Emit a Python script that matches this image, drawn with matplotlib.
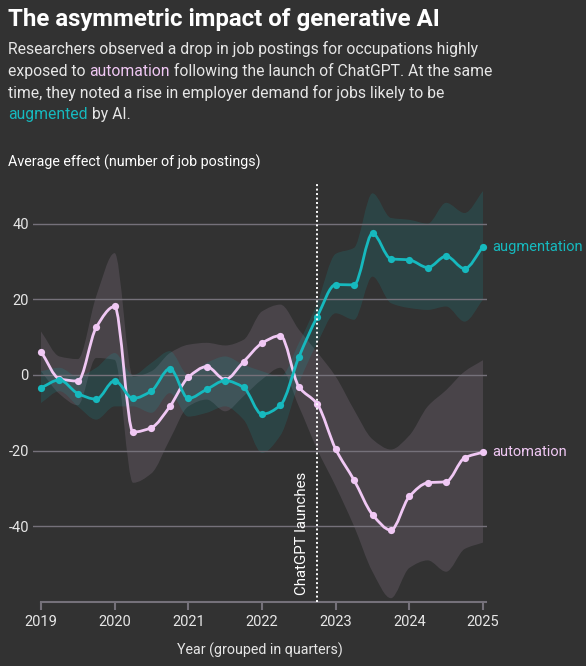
import numpy as np
import matplotlib
matplotlib.use("Agg")
import matplotlib.pyplot as plt
from matplotlib.path import Path
from matplotlib.patches import PathPatch

# ---------------- data ----------------
quarters = [2019 + 0.25 * i for i in range(25)]

automation = [6.2, -1.0, -1.6, 12.6, 18.1, -15.1, -13.9, -8.3, -0.6, 2.2, -1.2, 3.5, 8.4,
              10.4, -3.1, -7.7, -19.6, -27.8, -36.9, -41.0, -32.1, -28.5, -28.2, -21.9, -20.4]
automation_hi = [11.5, 4.9, 4.2, 20.8, 32.2, -0.5, 1.0, 5.8, 8.0, 8.5, 7.8, 9.3, 16.8,
                 18.6, 12.0, 6.0, -0.4, -9.2, -17.0, -19.7, -16.0, -8.3, -4.0, 0.9, 3.9]
automation_lo = [1.0, -5.0, -8.0, 4.5, 4.0, -28.5, -26.0, -17.0, -8.3, -6.5, -9.6, -5.6, -1.2,
                 1.9, -8.3, -19.7, -29.4, -40.0, -52.0, -59.0, -51.0, -49.0, -52.0, -46.0, -44.3]

augmentation = [-3.4, -1.3, -4.9, -6.4, -1.5, -6.2, -4.2, 1.7, -6.2, -3.8, -1.5, -3.3, -10.4,
                -8.0, 4.7, 15.4, 23.9, 23.8, 37.4, 30.7, 30.4, 28.4, 31.4, 28.1, 33.9]
augmentation_hi = [1.0, 1.9, -0.4, 1.9, 5.8, 0.0, 3.2, 6.3, 0.0, 3.2, 4.9, 2.7, 1.0,
                   -0.4, 8.4, 19.0, 32.0, 33.6, 48.0, 41.5, 41.0, 40.0, 45.5, 42.8, 48.6]
augmentation_lo = [-7.4, -4.3, -8.3, -11.8, -8.3, -8.3, -10.0, -4.8, -11.0, -10.0, -8.3, -11.8, -20.6,
                   -16.0, -2.2, 8.4, 16.3, 14.6, 26.0, 19.0, 17.7, 17.2, 18.1, 14.1, 19.9]

year_ticks = [2019, 2020, 2021, 2022, 2023, 2024, 2025]
y_ticks = [-40, -20, 0, 20, 40]
y_ticklabels = ["-40", "-20", "0", "20", "40"]
chatgpt_launch = 2022.75

# ---------------- style ----------------
BG = "#323232"
PINK = "#f0c8f4"
TEAL = "#16b9be"
TEAL_BAND = "#10a8ad"
GRID = "#75717a"
TXT = "#e6e6e6"
FONT = "Roboto"
plt.rcParams["font.family"] = [FONT, "DejaVu Sans"]


def monotone_segments(x, y):
    """Bezier control geometry (Fritsch-Carlson monotone cubic) for drawing."""
    x = np.asarray(x, float)
    y = np.asarray(y, float)
    n = len(x)
    h = np.diff(x)
    d = np.diff(y) / h
    m = np.zeros(n)
    m[0], m[-1] = d[0], d[-1]
    for i in range(1, n - 1):
        if d[i - 1] * d[i] <= 0:
            m[i] = 0.0
        else:
            w1 = 2 * h[i] + h[i - 1]
            w2 = h[i] + 2 * h[i - 1]
            m[i] = (w1 + w2) / (w1 / d[i - 1] + w2 / d[i])
    verts = []
    for i in range(n - 1):
        verts.append((x[i] + h[i] / 3, y[i] + m[i] * h[i] / 3))
        verts.append((x[i + 1] - h[i] / 3, y[i + 1] - m[i + 1] * h[i] / 3))
        verts.append((x[i + 1], y[i + 1]))
    return [(x[0], y[0])], verts


def line_path(x, y):
    start, rest = monotone_segments(x, y)
    verts = start + rest
    codes = [Path.MOVETO] + [Path.CURVE4] * len(rest)
    return Path(verts, codes)


def band_path(x, lo, hi):
    s1, r1 = monotone_segments(x, hi)
    s2, r2 = monotone_segments(x[::-1], lo[::-1])
    verts = s1 + r1 + s2 + r2 + [s1[0]]
    codes = ([Path.MOVETO] + [Path.CURVE4] * len(r1) + [Path.LINETO] + [Path.CURVE4] * len(r2)
             + [Path.CLOSEPOLY])
    return Path(verts, codes)


W, H = 586, 666
fig = plt.figure(figsize=(W / 100, H / 100), dpi=100, facecolor=BG)
ax = fig.add_axes([33 / W, (H - 602) / H, (487 - 33) / W, (602 - 182) / H])
ax.set_facecolor(BG)

x = np.array(quarters)
ax.set_xlim(2019 - 8 / 73.67, 2025 + 4 / 73.67)
ax.set_ylim(-60, 51)

# bands
ax.add_patch(PathPatch(band_path(x, np.array(automation_lo), np.array(automation_hi)),
                       facecolor=PINK, alpha=0.12, edgecolor="none", zorder=1))
ax.add_patch(PathPatch(band_path(x, np.array(augmentation_lo), np.array(augmentation_hi)),
                       facecolor=TEAL_BAND, alpha=0.16, edgecolor="none", zorder=1.1))

# grid
for v in y_ticks:
    ax.axhline(v, color=GRID, lw=1.0, zorder=1.5)

# lines
ax.add_patch(PathPatch(line_path(x, automation), facecolor="none", edgecolor=PINK, lw=2.0,
                       zorder=3, capstyle="round", joinstyle="round"))
ax.plot(x, automation, ls="none", marker="o", ms=5.2, color=PINK, mec="none", zorder=3.1)
ax.add_patch(PathPatch(line_path(x, augmentation), facecolor="none", edgecolor=TEAL, lw=2.0,
                       zorder=4, capstyle="round", joinstyle="round"))
ax.plot(x, augmentation, ls="none", marker="o", ms=5.2, color=TEAL, mec="none", zorder=4.1)

# ChatGPT launch
ax.axvline(chatgpt_launch, color="white", lw=1.4, ls=(0, (1, 1.3)), zorder=5)
ax.annotate("ChatGPT launches", xy=(chatgpt_launch, -58.2), xytext=(-6, 0),
            textcoords="offset points", rotation=90, ha="right", va="bottom",
            color="white", fontsize=10.8, zorder=6)

# series labels
ax.annotate("augmentation", xy=(quarters[-1], augmentation[-1]), xytext=(7, 0),
            textcoords="offset points", va="center", ha="left", color=TEAL, fontsize=10.5,
            annotation_clip=False)
ax.annotate("automation", xy=(quarters[-1], automation[-1]), xytext=(7, 0),
            textcoords="offset points", va="center", ha="left", color=PINK, fontsize=10.5,
            annotation_clip=False)

# axes styling
for s in ["top", "right", "left"]:
    ax.spines[s].set_visible(False)
ax.spines["bottom"].set_color(GRID)
ax.spines["bottom"].set_linewidth(1.5)
ax.spines["bottom"].set_bounds(2019, 2025.04)
ax.set_xticks(year_ticks)
ax.set_xticklabels([str(t) for t in year_ticks])
ax.tick_params(axis="x", colors=GRID, length=6, width=1.5, pad=3, labelcolor=TXT, labelsize=10.5)
ax.set_yticks(y_ticks)
ax.set_yticklabels(y_ticklabels)
ax.tick_params(axis="y", length=0, pad=3, labelcolor=TXT, labelsize=10.5)
ax.set_xlabel("Year (grouped in quarters)", color=TXT, fontsize=10.3, labelpad=10)

# ---------------- header text ----------------
fig.text(8 / W, 1 - 26 / H, "The asymmetric impact of generative AI", color="white",
         fontsize=17.3, fontweight="bold", va="baseline", ha="left")

sub_lines = [
    [("Researchers observed a drop in job postings for occupations highly", TXT)],
    [("exposed to ", TXT), ("automation", PINK), (" following the launch of ChatGPT. At the same", TXT)],
    [("time, they noted a rise in employer demand for jobs likely to be", TXT)],
    [("augmented", TEAL), (" by AI.", TXT)],
]
baselines = [54, 76, 97.7, 119.3]
renderer = fig.canvas.get_renderer()
for segs, bl in zip(sub_lines, baselines):
    xpix = 8.0
    for txt, col in segs:
        t = fig.text(xpix / W, 1 - bl / H, txt, color=col, fontsize=11.3, va="baseline", ha="left")
        bb = t.get_window_extent(renderer=renderer)
        xpix += bb.width

fig.text(8 / W, 1 - 166.7 / H, "Average effect (number of job postings)", color="white",
         fontsize=10.3, va="baseline", ha="left")

fig.savefig("out.png", dpi=100, facecolor=BG)
